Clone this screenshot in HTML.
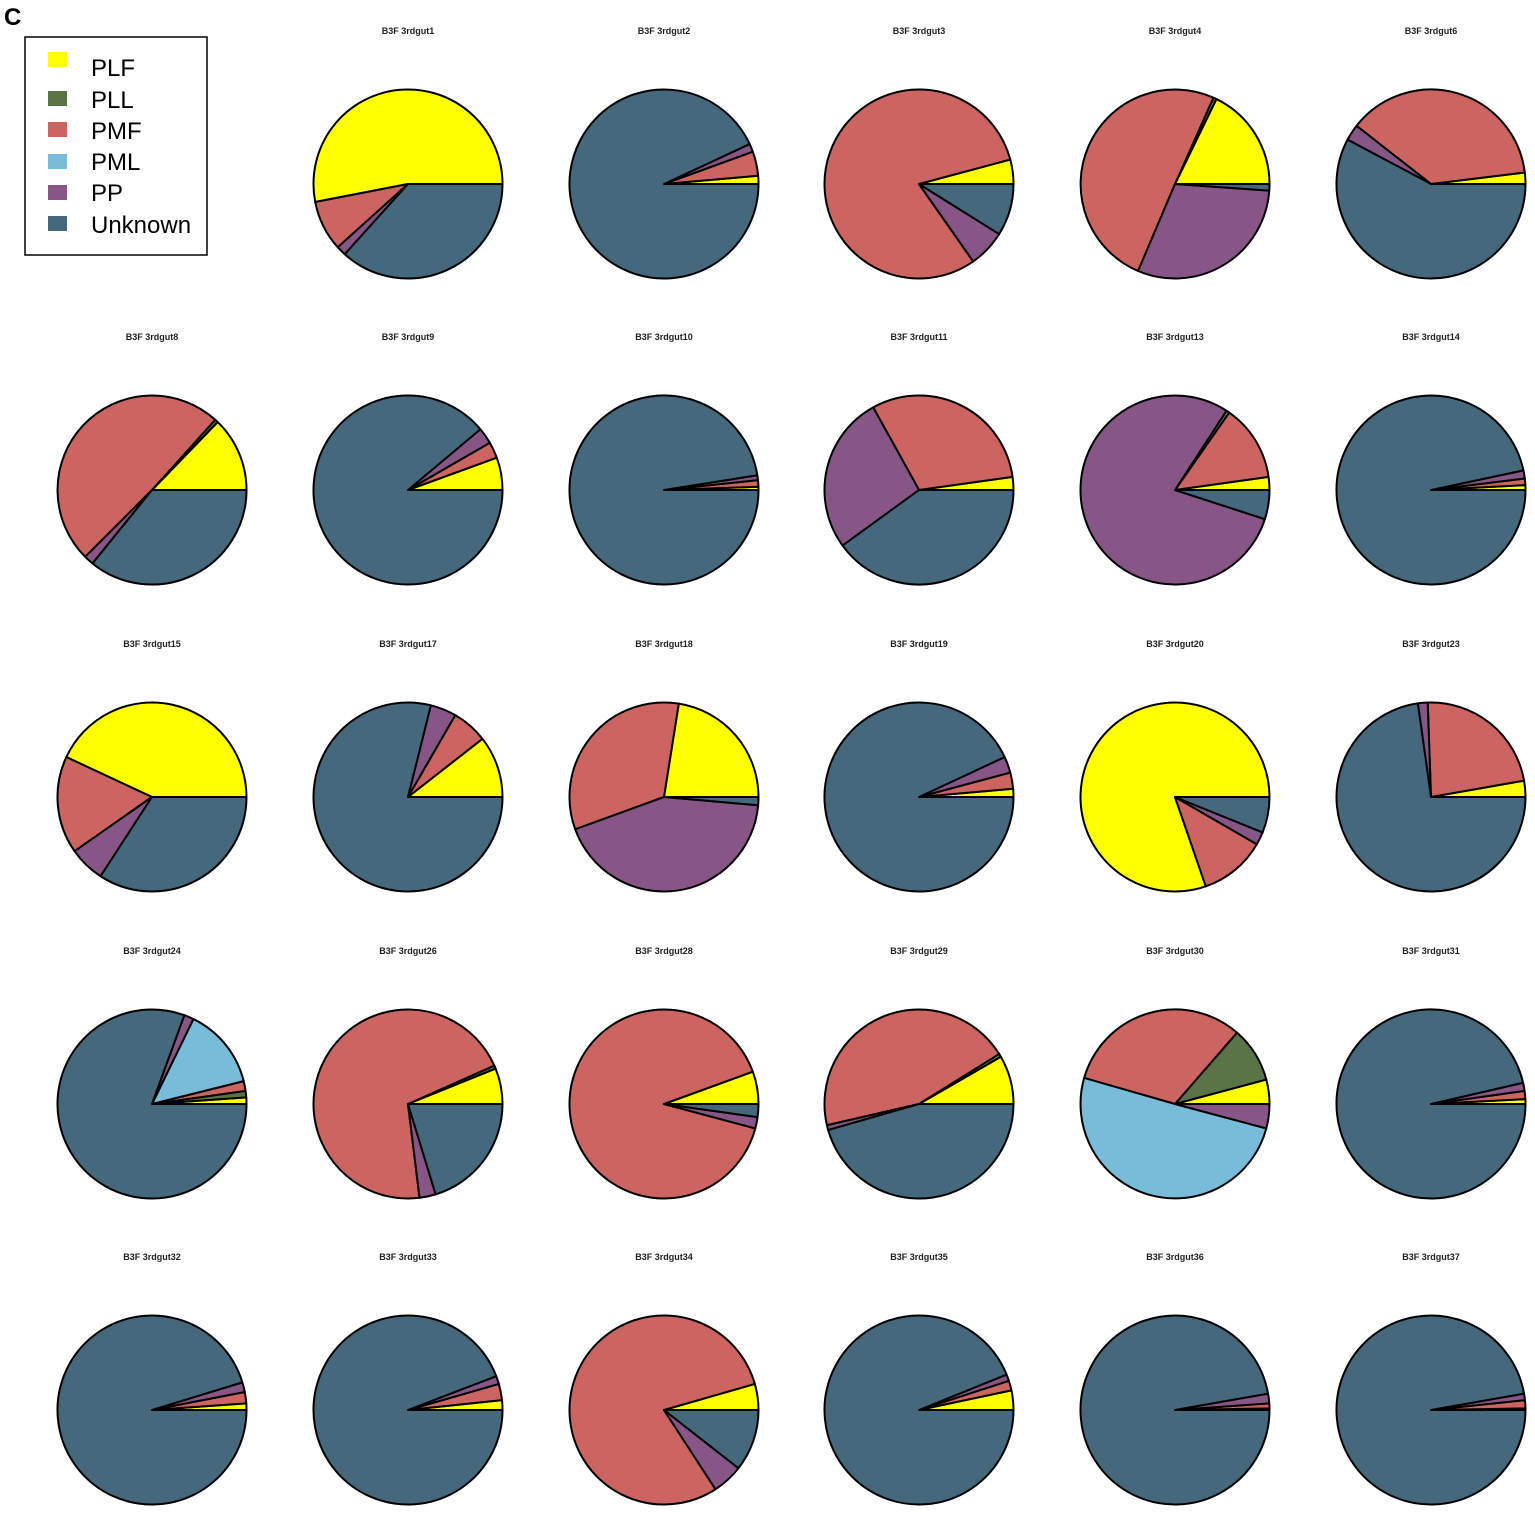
<!DOCTYPE html>
<html><head><meta charset="utf-8"><style>
body{margin:0;background:#fff;}
svg{display:block;font-family:"Liberation Sans",Arial,sans-serif;}
</style></head><body>
<svg id="s" width="1535" height="1514" xmlns="http://www.w3.org/2000/svg">
<rect width="1535" height="1514" fill="#fff"/>
<text x="4" y="25" font-size="24" font-weight="bold">C</text>
<rect x="25" y="37" width="182" height="218" fill="#fff" stroke="#000" stroke-width="1.5"/>
<rect x="48" y="52" width="19" height="15" fill="#FFFF00"/>
<rect x="48" y="91" width="19" height="15" fill="#5A7447"/>
<rect x="48" y="122" width="19" height="15" fill="#CC6462"/>
<rect x="48" y="154" width="19" height="15" fill="#78BCD9"/>
<rect x="48" y="185" width="19" height="15" fill="#875586"/>
<rect x="48" y="216" width="19" height="15" fill="#45687D"/>
<g font-size="24">
<text x="91" y="76">PLF</text><text x="91" y="108">PLL</text><text x="91" y="139">PMF</text>
<text x="91" y="170">PML</text><text x="91" y="201">PP</text><text x="91" y="233">Unknown</text>
</g>
<g id="pies"></g>
</svg>
<script>
var C={F:"#FFFF00",L:"#5A7447",M:"#CC6462",ML:"#78BCD9",P:"#875586",U:"#45687D"};
// [name, col, row, segments [color, startDeg, endDeg]]
var D=[
["B3F 3rdgut1",1,0,[["F",0,191],["M",191,222],["P",222,228],["U",228,360]]],
["B3F 3rdgut2",2,0,[["F",0,5],["M",5,20],["P",20,25],["U",25,360]]],
["B3F 3rdgut3",3,0,[["F",0,15],["M",15,305],["P",305,328],["U",328,360]]],
["B3F 3rdgut4",4,0,[["F",0,64],["L",64,66],["M",66,247],["P",247,356],["U",356,360]]],
["B3F 3rdgut6",5,0,[["F",0,7],["M",7,142],["P",142,152],["U",152,360]]],
["B3F 3rdgut8",0,1,[["F",0,46],["L",46,48],["M",48,225],["P",225,231],["U",231,360]]],
["B3F 3rdgut9",1,1,[["F",0,20],["M",20,30],["P",30,40],["U",40,360]]],
["B3F 3rdgut10",2,1,[["F",0,2],["M",2,6],["P",6,9],["U",9,360]]],
["B3F 3rdgut11",3,1,[["F",0,8],["M",8,119],["P",119,216],["U",216,360]]],
["B3F 3rdgut13",4,1,[["F",0,8],["M",8,55],["L",55,57],["P",57,342],["U",342,360]]],
["B3F 3rdgut14",5,1,[["F",0,3],["M",3,7],["P",7,12],["U",12,360]]],
["B3F 3rdgut15",0,2,[["F",0,155],["M",155,215],["P",215,237],["U",237,360]]],
["B3F 3rdgut17",1,2,[["F",0,38],["M",38,60],["P",60,76],["U",76,360]]],
["B3F 3rdgut18",2,2,[["F",0,81],["M",81,200],["P",200,355],["U",355,360]]],
["B3F 3rdgut19",3,2,[["F",0,5],["M",5,15],["P",15,25],["U",25,360]]],
["B3F 3rdgut20",4,2,[["F",0,289],["M",289,330],["P",330,338],["U",338,360]]],
["B3F 3rdgut23",5,2,[["F",0,10],["M",10,92],["P",92,98],["U",98,360]]],
["B3F 3rdgut24",0,3,[["F",0,4],["L",4,8],["M",8,14],["ML",14,64],["P",64,70],["U",70,360]]],
["B3F 3rdgut26",1,3,[["F",0,22],["L",22,24],["M",24,277],["P",277,287],["U",287,360]]],
["B3F 3rdgut28",2,3,[["F",0,20],["M",20,345],["P",345,352],["U",352,360]]],
["B3F 3rdgut29",3,3,[["F",0,30],["L",30,32],["M",32,193],["P",193,196],["U",196,360]]],
["B3F 3rdgut30",4,3,[["F",0,15],["L",15,49],["M",49,164],["ML",164,345],["P",345,360]]],
["B3F 3rdgut31",5,3,[["F",0,3],["M",3,8],["P",8,13],["U",13,360]]],
["B3F 3rdgut32",0,4,[["F",0,4],["M",4,11],["P",11,17],["U",17,360]]],
["B3F 3rdgut33",1,4,[["F",0,6],["M",6,16],["P",16,21],["U",21,360]]],
["B3F 3rdgut34",2,4,[["F",0,16],["M",16,303],["P",303,322],["U",322,360]]],
["B3F 3rdgut35",3,4,[["F",0,12],["M",12,18],["P",18,22],["U",22,360]]],
["B3F 3rdgut36",4,4,[["F",0,1],["M",1,4],["P",4,10],["U",10,360]]],
["B3F 3rdgut37",5,4,[["F",0,1],["M",1,6],["P",6,10],["U",10,360]]]
];
var xs=[152,408,664,919,1175,1431],ys=[184,490,797,1104,1410],R=94.5,h="";
function pt(cx,cy,a){a=a*Math.PI/180;return (cx+R*Math.cos(a)).toFixed(2)+","+(cy-R*Math.sin(a)).toFixed(2);}
D.forEach(function(d){
 var cx=xs[d[1]],cy=ys[d[2]];
 h+='<text x="'+cx+'" y="'+(cy-150)+'" font-size="9" font-weight="bold" text-anchor="middle" fill="#222">'+d[0]+'</text>';
 d[3].forEach(function(s){
  var a0=s[1],a1=s[2],large=(a1-a0)>180?1:0;
  h+='<path d="M'+cx+','+cy+' L'+pt(cx,cy,a0)+' A'+R+','+R+' 0 '+large+' 0 '+pt(cx,cy,a1)+' Z" fill="'+C[s[0]]+'" stroke="#000" stroke-width="2" stroke-linejoin="round"/>';
 });
});
document.getElementById("pies").innerHTML=h;
</script>
</body></html>
